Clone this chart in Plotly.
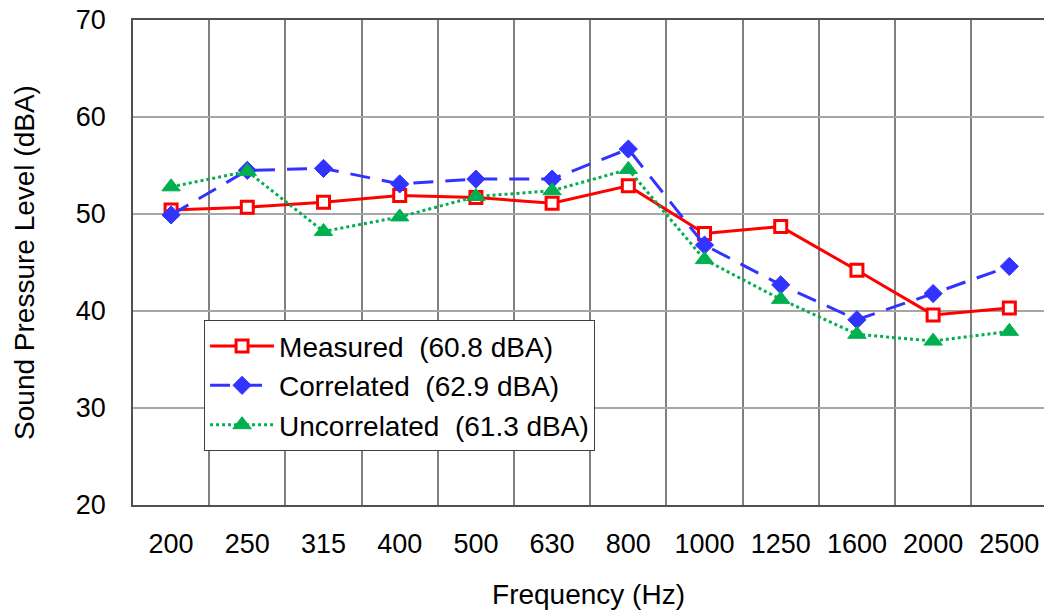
import plotly.graph_objects as go

freqs = ["200", "250", "315", "400", "500", "630", "800", "1000", "1250", "1600", "2000", "2500"]
measured = [50.4, 50.7, 51.2, 51.9, 51.7, 51.1, 52.9, 48.0, 48.7, 44.2, 39.6, 40.3]
correlated = [49.9, 54.5, 54.7, 53.1, 53.6, 53.6, 56.7, 46.8, 42.7, 39.1, 41.8, 44.6]
uncorrelated = [52.8, 54.4, 48.2, 49.7, 51.8, 52.4, 54.6, 45.3, 41.2, 37.6, 36.9, 37.9]
names = ["Measured  (60.8 dBA)", "Correlated  (62.9 dBA)", "Uncorrelated  (61.3 dBA)"]
y_ticks = [20, 30, 40, 50, 60, 70]

FONT = "Liberation Sans, Arial, sans-serif"

fig = go.Figure()
fig.add_trace(go.Scatter(
    x=freqs, y=measured, name=names[0], mode="lines+markers", legendgroup="a",
    line=dict(color="#FF0000", width=3),
    marker=dict(symbol="square", size=12, color="white", line=dict(color="#FF0000", width=3)),
))
fig.add_trace(go.Scatter(
    x=freqs, y=correlated, name=names[1], mode="lines+markers", legendgroup="b",
    line=dict(color="#3333FF", width=3, dash="20px,12px"),
    marker=dict(symbol="diamond", size=14, color="#3333FF", line=dict(color="#3333FF", width=1)),
))
fig.add_trace(go.Scatter(
    x=freqs, y=uncorrelated, name=names[2], mode="lines+markers", legendgroup="c",
    line=dict(color="#00B050", width=3, dash="dot"),
    marker=dict(symbol="triangle-up", size=16, color="#00B050", line=dict(color="#00B050", width=1)),
))

fig.update_layout(
    width=1044, height=611,
    margin=dict(l=133, r=0, t=20, b=106),
    paper_bgcolor="white", plot_bgcolor="white",
    font=dict(family=FONT, size=27, color="black"),
    showlegend=True,
    legend=dict(
        x=0.078, y=0.381, xanchor="left", yanchor="top",
        bgcolor="white", bordercolor="#404040", borderwidth=1,
        font=dict(family=FONT, size=28, color="black"),
        itemwidth=64, tracegroupgap=3, traceorder="normal",
    ),
    xaxis=dict(
        type="category", range=[-0.5, 11.455],
        tickson="boundaries", showgrid=True, gridcolor="#808080", gridwidth=2,
        showline=True, linecolor="#505050", linewidth=1.5, mirror=True,
        ticks="", ticklabelstandoff=14,
        tickfont=dict(family=FONT, size=27),
        title=dict(text="Frequency (Hz)", font=dict(family=FONT, size=28), standoff=26),
    ),
    yaxis=dict(
        range=[20, 70], tickvals=y_ticks, ticktext=[str(v) for v in y_ticks],
        showgrid=True, gridcolor="#A6A6A6", gridwidth=1.5,
        showline=True, linecolor="#505050", linewidth=1.5, mirror=False,
        ticks="", ticklabelstandoff=20, zeroline=False,
        tickfont=dict(family=FONT, size=27),
        title=dict(text="Sound Pressure Level (dBA)", font=dict(family=FONT, size=28), standoff=33),
    ),
)

fig.write_html("out.html")
